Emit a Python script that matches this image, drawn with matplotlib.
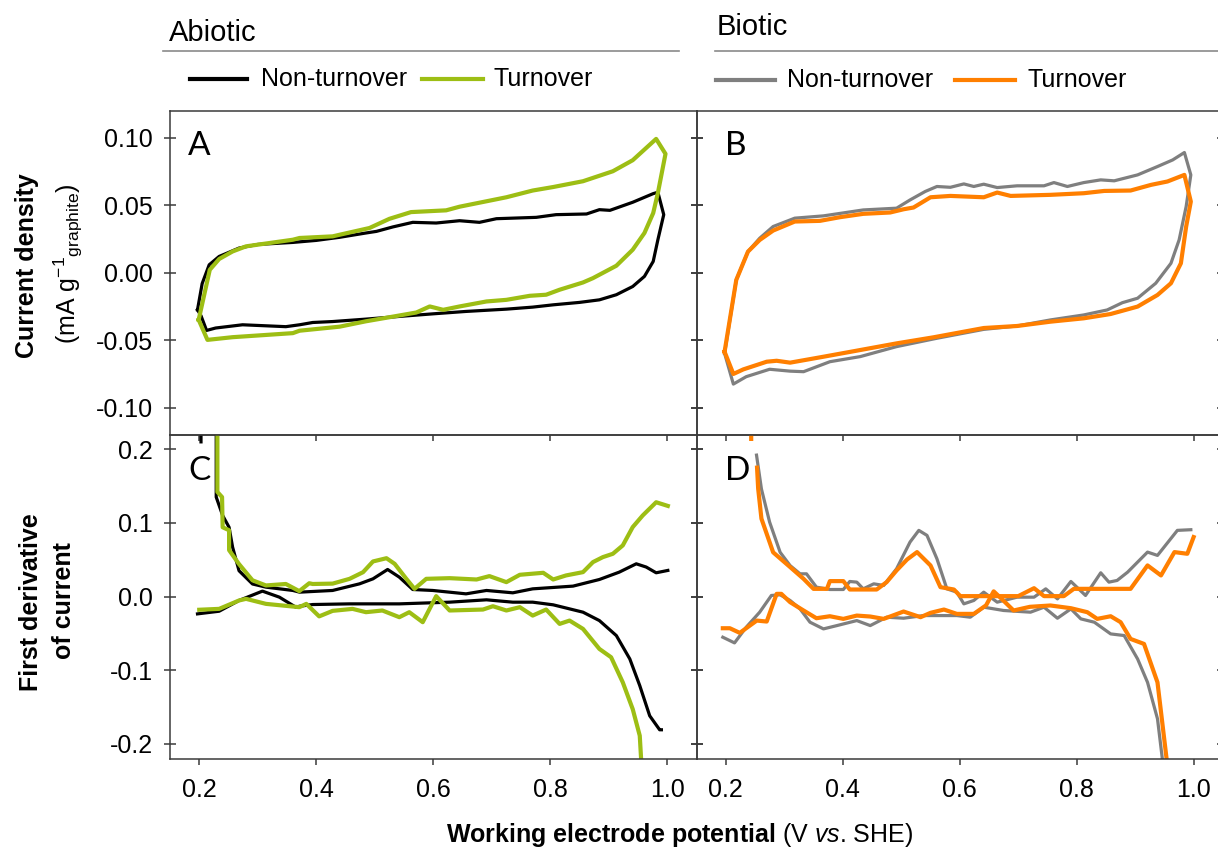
import matplotlib
matplotlib.use('Agg')
import matplotlib.pyplot as plt
import numpy as np

plt.rcParams['font.family'] = ['Liberation Sans', 'DejaVu Sans']
plt.rcParams['mathtext.fontset'] = 'custom'
plt.rcParams['mathtext.rm'] = 'Liberation Sans'
plt.rcParams['mathtext.it'] = 'Liberation Sans:italic'
plt.rcParams['mathtext.bf'] = 'Liberation Sans:bold'
plt.rcParams['axes.unicode_minus'] = False

nan = np.nan

# colours
c_black = '#000000'
c_green = '#9DBE14'
c_grey = '#7F7F7F'
c_orange = '#FF7F00'

# ---------------- A: abiotic cyclic voltammograms (mA g-1 graphite)
a_non_x = [0.197, 0.205, 0.217, 0.234, 0.268, 0.30, 0.36, 0.40, 0.44, 0.485, 0.503, 0.531, 0.565,
           0.605, 0.645, 0.679, 0.708, 0.776, 0.810, 0.862, 0.884, 0.902, 0.941, 0.976, 0.984, 0.994,
           0.984, 0.976, 0.961, 0.941, 0.913, 0.884, 0.850, 0.805, 0.770, 0.725, 0.656, 0.599, 0.542,
           0.485, 0.428, 0.394, 0.3715, 0.348, 0.274, 0.228, 0.2125, 0.203, 0.197]
a_non_y = [-0.0275, -0.008, 0.0059, 0.0121, 0.0183, 0.021, 0.0225, 0.024, 0.0263, 0.0295, 0.0307, 0.034,
           0.0374, 0.0369, 0.0386, 0.0374, 0.0401, 0.0411, 0.0431, 0.0436, 0.0468, 0.0463, 0.0523, 0.0587,
           0.0597, 0.0431,
           0.0245, 0.0084, -0.0027, -0.0102, -0.0163, -0.0201, -0.022, -0.0238, -0.0255, -0.027, -0.0287,
           -0.0305, -0.0324, -0.0344, -0.0362, -0.0369, -0.0386, -0.040, -0.0386, -0.041, -0.0428, -0.0319,
           -0.0275]

a_turn_x = [0.199, 0.218, 0.234, 0.257, 0.28, 0.36, 0.3715, 0.428, 0.44, 0.491, 0.525, 0.562, 0.622, 0.645,
            0.725, 0.770, 0.805, 0.856, 0.907, 0.941, 0.981, 0.997,
            0.984, 0.976, 0.961, 0.941, 0.913, 0.873, 0.856, 0.816, 0.793, 0.765, 0.725, 0.691, 0.645, 0.617,
            0.594, 0.571, 0.525, 0.485, 0.44, 0.3715, 0.36, 0.257, 0.214, 0.199]
a_turn_y = [-0.0349, 0.0022, 0.0102, 0.0158, 0.0196, 0.0245, 0.0258, 0.027, 0.0282, 0.0332, 0.040, 0.045,
            0.0463, 0.049, 0.056, 0.061, 0.0636, 0.0679, 0.0753, 0.0835, 0.0993, 0.0882,
            0.0592, 0.0443, 0.0295, 0.0171, 0.0052, -0.004, -0.0072, -0.0126, -0.0163, -0.0171, -0.0201,
            -0.0213, -0.025, -0.0275, -0.025, -0.0295, -0.033, -0.036, -0.040, -0.043, -0.0448, -0.0478,
            -0.0498, -0.0349]

# ---------------- B: biotic cyclic voltammograms
b_non_x = [0.198, 0.218, 0.238, 0.258, 0.281, 0.318, 0.367, 0.435, 0.492, 0.515, 0.541, 0.561, 0.584, 0.607,
           0.624, 0.641, 0.664, 0.698, 0.744, 0.761, 0.784, 0.812, 0.841, 0.864, 0.904, 0.938, 0.964, 0.984,
           0.995,
           0.987, 0.975, 0.961, 0.935, 0.904, 0.878, 0.852, 0.812, 0.755, 0.698, 0.641, 0.561, 0.492, 0.430,
           0.378, 0.333, 0.310, 0.275, 0.235, 0.213, 0.198]
b_non_y = [-0.0598, -0.0053, 0.0157, 0.0256, 0.0343, 0.0405, 0.0422, 0.0466, 0.0479, 0.054, 0.0603, 0.064,
           0.0634, 0.0659, 0.064, 0.0657, 0.0632, 0.0645, 0.0645, 0.0669, 0.064, 0.0669, 0.0689, 0.0682,
           0.0726, 0.0788, 0.0837, 0.0892, 0.0726,
           0.0491, 0.0244, 0.007, -0.0078, -0.0189, -0.0222, -0.0276, -0.0313, -0.035, -0.0395, -0.042,
           -0.0486, -0.0548, -0.0622, -0.066, -0.0734, -0.073, -0.0716, -0.0771, -0.0826, -0.0598]

b_turn_x = [0.198, 0.218, 0.238, 0.258, 0.281, 0.318, 0.361, 0.395, 0.435, 0.481, 0.504, 0.521, 0.55, 0.584,
            0.641, 0.664, 0.687, 0.755, 0.812, 0.847, 0.892, 0.927, 0.955, 0.984, 0.995,
            0.987, 0.978, 0.961, 0.938, 0.904, 0.858, 0.812, 0.755, 0.698, 0.641, 0.555, 0.492, 0.424, 0.367,
            0.310, 0.287, 0.27, 0.23, 0.213, 0.198]
b_turn_y = [-0.0586, -0.0053, 0.0157, 0.0243, 0.0313, 0.038, 0.0385, 0.0412, 0.0437, 0.0447, 0.0471, 0.0484,
            0.056, 0.057, 0.056, 0.0595, 0.057, 0.0578, 0.059, 0.0607, 0.061, 0.0652, 0.0677, 0.0726, 0.0528,
            0.0342, 0.007, -0.0078, -0.0165, -0.0251, -0.0306, -0.0338, -0.0363, -0.0395, -0.041, -0.0479,
            -0.0524, -0.0578, -0.0623, -0.0667, -0.0653, -0.066, -0.0717, -0.0751, -0.0586]

# ---------------- C: abiotic first derivative (forward / reverse scans)
c_non_fwd_x = [0.203, 0.203, nan, 0.229, 0.229, 0.24, 0.251, 0.257, 0.268, 0.291, 0.314, 0.36, 0.3715, 0.428,
               0.474, 0.497, 0.522, 0.542, 0.565, 0.599, 0.656, 0.691, 0.736, 0.770, 0.839, 0.884, 0.918,
               0.947, 0.964, 0.981, 1.001]
c_non_fwd_y = [0.25, 0.21, nan, 0.25, 0.135, 0.11, 0.094, 0.067, 0.035, 0.017, 0.0127, 0.0082, 0.0059, 0.0082,
               0.0172, 0.024, 0.0367, 0.0263, 0.0095, 0.0082, 0.0036, 0.0082, 0.005, 0.0104, 0.0141, 0.0231,
               0.0331, 0.0444, 0.040, 0.0322, 0.0354]
c_non_rev_x = [0.197, 0.234, 0.268, 0.308, 0.337, 0.365, 0.3715, 0.394, 0.457, 0.542, 0.628, 0.691, 0.736,
               0.770, 0.805, 0.856, 0.884, 0.913, 0.936, 0.953, 0.970, 0.987, 0.99]
c_non_rev_y = [-0.0236, -0.020, -0.0054, 0.0073, -0.0009, -0.0145, -0.0132, -0.0109, -0.010, -0.010, -0.0077,
               -0.0045, -0.0077, -0.0077, -0.0113, -0.0213, -0.0327, -0.0531, -0.0848, -0.121, -0.162,
               -0.181, -0.181]
c_turn_fwd_x = [0.231, 0.231, 0.239, 0.24, 0.251, 0.251, 0.268, 0.291, 0.314, 0.348, 0.371, 0.388, 0.394,
                0.428, 0.457, 0.48, 0.497, 0.52, 0.534, 0.554, 0.568, 0.588, 0.628, 0.674, 0.696, 0.725, 0.748,
                0.788, 0.805, 0.827, 0.856, 0.873, 0.89, 0.907, 0.924, 0.941, 0.958, 0.981, 1.001]
c_turn_fwd_y = [0.25, 0.142, 0.135, 0.094, 0.09, 0.063, 0.044, 0.022, 0.015, 0.017, 0.0073, 0.018, 0.017,
                0.0175, 0.024, 0.033, 0.0476, 0.052, 0.0444, 0.024, 0.0104, 0.024, 0.0249, 0.0231, 0.0277,
                0.0195, 0.0295, 0.0322, 0.0231, 0.0286, 0.0331, 0.0467, 0.0535, 0.058, 0.0694, 0.0943, 0.110,
                0.128, 0.123]
c_turn_rev_x = [0.2, 0.234, 0.268, 0.28, 0.314, 0.371, 0.383, 0.405, 0.428, 0.462, 0.485, 0.513, 0.542, 0.559,
                0.582, 0.605, 0.628, 0.685, 0.702, 0.725, 0.748, 0.770, 0.793, 0.816, 0.833, 0.856, 0.884,
                0.904, 0.924, 0.941, 0.953, 0.956]
c_turn_rev_y = [-0.018, -0.0168, -0.0054, -0.0032, -0.010, -0.0145, -0.010, -0.027, -0.0195, -0.0168, -0.0213,
                -0.019, -0.0281, -0.0213, -0.0349, 0.0005, -0.019, -0.0177, -0.0132, -0.019, -0.0145, -0.0259,
                -0.0177, -0.0372, -0.0327, -0.044, -0.0712, -0.0825, -0.1166, -0.153, -0.189, -0.23]

# ---------------- D: biotic first derivative
d_non_fwd_x = [0.2526, 0.261, 0.275, 0.293, 0.31, 0.327, 0.338, 0.355, 0.378, 0.401, 0.412, 0.424, 0.435,
               0.453, 0.47, 0.492, 0.515, 0.53, 0.544, 0.561, 0.578, 0.595, 0.607, 0.624, 0.641, 0.664, 0.698,
               0.727, 0.747, 0.767, 0.79, 0.815, 0.841, 0.855, 0.869, 0.887, 0.921, 0.938, 0.972, 0.995]
d_non_fwd_y = [0.192, 0.146, 0.101, 0.060, 0.042, 0.0308, 0.0308, 0.0127, 0.0095, 0.0095, 0.0204, 0.0195,
               0.0104, 0.0172, 0.015, 0.0376, 0.0739, 0.0898, 0.083, 0.0512, 0.0104, 0.0059, -0.010, -0.0054,
               0.0059, -0.0077, -0.0009, -0.0009, 0.0104, -0.0032, 0.0204, 0.0014, 0.0322, 0.0195, 0.0218,
               0.0331, 0.0603, 0.0558, 0.0898, 0.0907]
d_non_rev_x = [0.195, 0.215, 0.235, 0.258, 0.278, 0.293, 0.31, 0.327, 0.344, 0.367, 0.39, 0.424, 0.447, 0.475,
               0.504, 0.538, 0.595, 0.618, 0.641, 0.675, 0.721, 0.744, 0.767, 0.79, 0.807, 0.83, 0.858, 0.881,
               0.904, 0.921, 0.938, 0.947]
d_non_rev_y = [-0.0553, -0.063, -0.0417, -0.0213, 0.0014, 0.0023, -0.0054, -0.0168, -0.0349, -0.044, -0.0395,
               -0.0327, -0.0395, -0.0281, -0.0295, -0.0259, -0.0259, -0.0281, -0.0145, -0.019, -0.0213,
               -0.0145, -0.0295, -0.0168, -0.0304, -0.0349, -0.0508, -0.053, -0.0848, -0.1166, -0.166, -0.225]
d_turn_fwd_x = [0.2435, 0.2435, nan, 0.2535, 0.2554, 0.261, 0.281, 0.31, 0.333, 0.35, 0.373, 0.378, 0.401,
                0.412, 0.458, 0.475, 0.492, 0.51, 0.527, 0.55, 0.567, 0.59, 0.601, 0.641, 0.664, 0.70, 0.727,
                0.744, 0.778, 0.795, 0.892, 0.921, 0.944, 0.967, 0.989, 0.9998]
d_turn_fwd_y = [0.25, 0.214, nan, 0.175, 0.1465, 0.1057, 0.060, 0.040, 0.024, 0.0104, 0.0104, 0.0209, 0.0209,
                0.0095, 0.0095, 0.0195, 0.0354, 0.0503, 0.0603, 0.0422, 0.0127, 0.0095, 0.0005, 0.0005, 0.0005,
                0.0005, 0.0113, 0.0005, 0.0005, 0.0104, 0.0104, 0.0422, 0.0286, 0.0603, 0.058, 0.0807]
d_turn_rev_x = [0.195, 0.207, 0.224, 0.253, 0.27, 0.287, 0.295, 0.31, 0.333, 0.355, 0.378, 0.401, 0.424, 0.447,
                0.47, 0.504, 0.533, 0.55, 0.573, 0.595, 0.624, 0.645, 0.658, 0.67, 0.692, 0.72, 0.755, 0.79,
                0.818, 0.835, 0.858, 0.875, 0.892, 0.915, 0.938, 0.955]
d_turn_rev_y = [-0.0431, -0.0431, -0.0494, -0.0327, -0.034, 0.0036, 0.0036, -0.0077, -0.019, -0.0295, -0.0268,
                -0.0304, -0.0259, -0.0272, -0.0304, -0.0204, -0.0281, -0.0222, -0.0177, -0.0236, -0.0236,
                -0.012, 0.007, -0.002, -0.019, -0.014, -0.0122, -0.0159, -0.0213, -0.0304, -0.0268, -0.0349,
                -0.0576, -0.0644, -0.1166, -0.23]

# axis ticks
x_ticks = [0.2, 0.4, 0.6, 0.8, 1.0]
x_labels = ['0.2', '0.4', '0.6', '0.8', '1.0']
cv_ticks = [-0.10, -0.05, 0.0, 0.05, 0.10]
cv_labels = ['-0.10', '-0.05', '0.00', '0.05', '0.10']
der_ticks = [-0.2, -0.1, 0.0, 0.1, 0.2]
der_labels = ['-0.2', '-0.1', '0.0', '0.1', '0.2']

W, H = 1218, 850
fig = plt.figure(figsize=(W / 100, H / 100), dpi=100)


def box(l, t, r, b):
    return [l / W, 1 - b / H, (r - l) / W, (b - t) / H]


axA = fig.add_axes(box(170, 111, 696.5, 434.5))
axB = fig.add_axes(box(696.5, 111, 1223, 434.5))
axC = fig.add_axes(box(170, 434.5, 696.5, 758.5))
axD = fig.add_axes(box(696.5, 434.5, 1223, 758.5))

spine_c = '#3a3a3a'


def style(ax, ylim, yt, yl, left_lab, bottom_lab):
    ax.set_facecolor('none')
    ax.set_xlim(0.15, 1.05)
    ax.set_ylim(*ylim)
    ax.set_xticks(x_ticks)
    ax.set_xticklabels(x_labels if bottom_lab else [])
    ax.set_yticks(yt)
    ax.set_yticklabels(yl if left_lab else [])
    for s in ax.spines.values():
        s.set_linewidth(1.1)
        s.set_color(spine_c)
    ax.tick_params(axis='y', direction='inout', length=8.6, width=1.1, color=spine_c,
                   left=True, right=True, labelsize=18, pad=8)
    ax.tick_params(axis='x', direction='out', length=4, width=1.1, color=spine_c,
                   labelsize=18, pad=10)


style(axA, (-0.12, 0.12), cv_ticks, cv_labels, True, False)
style(axB, (-0.12, 0.12), cv_ticks, cv_labels, False, False)
style(axC, (-0.22, 0.22), der_ticks, der_labels, True, True)
style(axD, (-0.22, 0.22), der_ticks, der_labels, False, True)

# A
axA.plot(a_non_x, a_non_y, color=c_black, lw=2.3)
axA.plot(a_turn_x, a_turn_y, color=c_green, lw=3.0)
# B
axB.plot(b_non_x, b_non_y, color=c_grey, lw=2.3)
axB.plot(b_turn_x, b_turn_y, color=c_orange, lw=3.0)
# C
axC.plot(c_non_fwd_x, c_non_fwd_y, color=c_black, lw=2.3)
axC.plot(c_non_rev_x, c_non_rev_y, color=c_black, lw=2.3)
axC.plot(c_turn_fwd_x, c_turn_fwd_y, color=c_green, lw=3.0)
axC.plot(c_turn_rev_x, c_turn_rev_y, color=c_green, lw=3.0)
# D
axD.plot(d_non_fwd_x, d_non_fwd_y, color=c_grey, lw=2.3)
axD.plot(d_non_rev_x, d_non_rev_y, color=c_grey, lw=2.3)
axD.plot(d_turn_fwd_x, d_turn_fwd_y, color=c_orange, lw=3.0)
axD.plot(d_turn_rev_x, d_turn_rev_y, color=c_orange, lw=3.0)

# panel letters
for ax, letter, xf, yf in [(axA, 'A', 0.034, 0.864), (axB, 'B', 0.054, 0.864),
                           (axC, 'C', 0.034, 0.86), (axD, 'D', 0.054, 0.86)]:
    ax.text(xf, yf, letter, transform=ax.transAxes, fontsize=24, family=['Lato', 'DejaVu Sans'],
            va='baseline', ha='left')

# overlay in pixel coordinates for headers, legends and axis titles
ov = fig.add_axes([0, 0, 1, 1])
ov.set_xlim(0, W)
ov.set_ylim(H, 0)
ov.axis('off')

ov.text(169, 41, 'Abiotic', fontsize=21, ha='left', va='baseline')
ov.plot([163, 679], [51, 51], color='#8a8a8a', lw=1.2)
ov.text(717, 35, 'Biotic', fontsize=21, ha='left', va='baseline')
ov.plot([715, 1218], [51, 51], color='#8a8a8a', lw=1.2)

# legend rows
ov.plot([190, 247], [79, 79], color=c_black, lw=3)
ov.text(261, 86, 'Non-turnover', fontsize=18, va='baseline', ha='left')
ov.plot([422, 483], [79, 79], color=c_green, lw=3)
ov.text(494, 86, 'Turnover', fontsize=18, va='baseline', ha='left')
ov.plot([716, 775], [80, 80], color=c_grey, lw=3)
ov.text(787, 87, 'Non-turnover', fontsize=18, va='baseline', ha='left')
ov.plot([955, 1015], [80, 80], color=c_orange, lw=3)
ov.text(1027, 87, 'Turnover', fontsize=18, va='baseline', ha='left')

# axis titles
ov.text(27, 266, 'Current density', rotation=90, fontsize=18, fontweight='bold', ha='center', va='center')
ov.text(68, 264, r'(mA g$^{-1}$$_{\mathrm{graphite}}$)', rotation=90, fontsize=18, ha='center', va='center')
ov.text(31, 602, 'First derivative', rotation=90, fontsize=18, fontweight='bold', ha='center', va='center')
ov.text(64, 601, 'of current', rotation=90, fontsize=18, fontweight='bold', ha='center', va='center')
ov.text(680, 835, r'$\mathbf{Working\ electrode\ potential}$ (V $\mathit{vs}$. SHE)', fontsize=18,
        ha='center', va='center')

fig.savefig('out.png', dpi=100)
